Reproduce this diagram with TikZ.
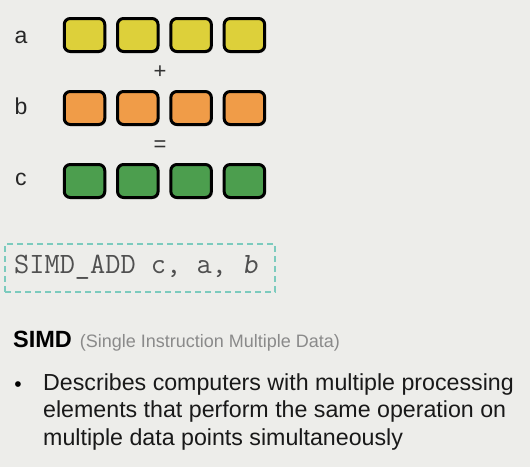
\documentclass[tikz,border=0pt]{standalone}
\usepackage{fontspec}
\setmainfont{Liberation Sans}
\usetikzlibrary{positioning,shadows}

\definecolor{slidebg}{HTML}{EDEDEA}
\definecolor{yelw}{HTML}{DDD03A}
\definecolor{orng}{HTML}{F09C48}
\definecolor{grn}{HTML}{4C9E4E}
\definecolor{teal}{HTML}{7CCBBE}
\definecolor{codegray}{HTML}{505050}
\definecolor{notegray}{HTML}{8A8A8A}

\begin{document}
\begin{tikzpicture}[x=1pt, y=-1pt,
  cell/.style={draw=black, line width=3pt, rounded corners=6pt, minimum width=40.5pt, minimum height=33pt, inner sep=0pt,
    drop shadow={opacity=0.25, shadow xshift=1.5pt, shadow yshift=-1.5pt}},
  lbl/.style={font=\fontsize{23}{27}\selectfont, text=black!85},
  op/.style={font=\fontsize{22}{26}\selectfont, text=black!80},
  codebox/.style={draw=teal, line width=1.4pt, dash pattern=on 6pt off 4pt, minimum width=270pt, minimum height=48pt, inner sep=0pt},
  body/.style={font=\fontsize{23.2}{27.5}\selectfont, text=black!90, align=left, inner sep=0pt}]
\fill[slidebg] (0,0) rectangle (530,467);
\useasboundingbox (0,0) rectangle (530,467);

% register rows
\foreach \r/\col/\y/\ly in {a/yelw/35/37, b/orng/108/106, c/grn/181/179} {
  \node[lbl] (\r) at (21,\ly) {\r};
  \foreach \i in {1,...,4}
    \node[cell, fill=\col] (\r\i) at ({84.5+53.3*(\i-1)},\y) {};
}
\node[op] (plus) at (160,72) {+};
\node[op] (eq) at (160,146) {=};

% instruction
\node[codebox] (instr) at (140,268) {};
\node[anchor=base west, inner sep=0pt, font=\ttfamily\fontsize{29.5}{34}\selectfont, text=codegray] (code) at (14,273)
  {SIMD\_ADD c, a, \textsl{b}};

% description
\node[anchor=base west, inner sep=0pt] (title) at (13,347)
  {\fontsize{23.5}{27}\selectfont\bfseries SIMD\,\,{\fontsize{18}{21}\selectfont\mdseries\color{notegray}(Single Instruction Multiple Data)}};
\node[anchor=base, inner sep=0pt, font=\fontsize{21}{25}\selectfont] (dot) at (18,391) {\textbullet};
\node[body, anchor=north west] (desc) at (43,373)
  {Describes computers with multiple processing\\elements that perform the same operation on\\multiple data points simultaneously};
\end{tikzpicture}
\end{document}
